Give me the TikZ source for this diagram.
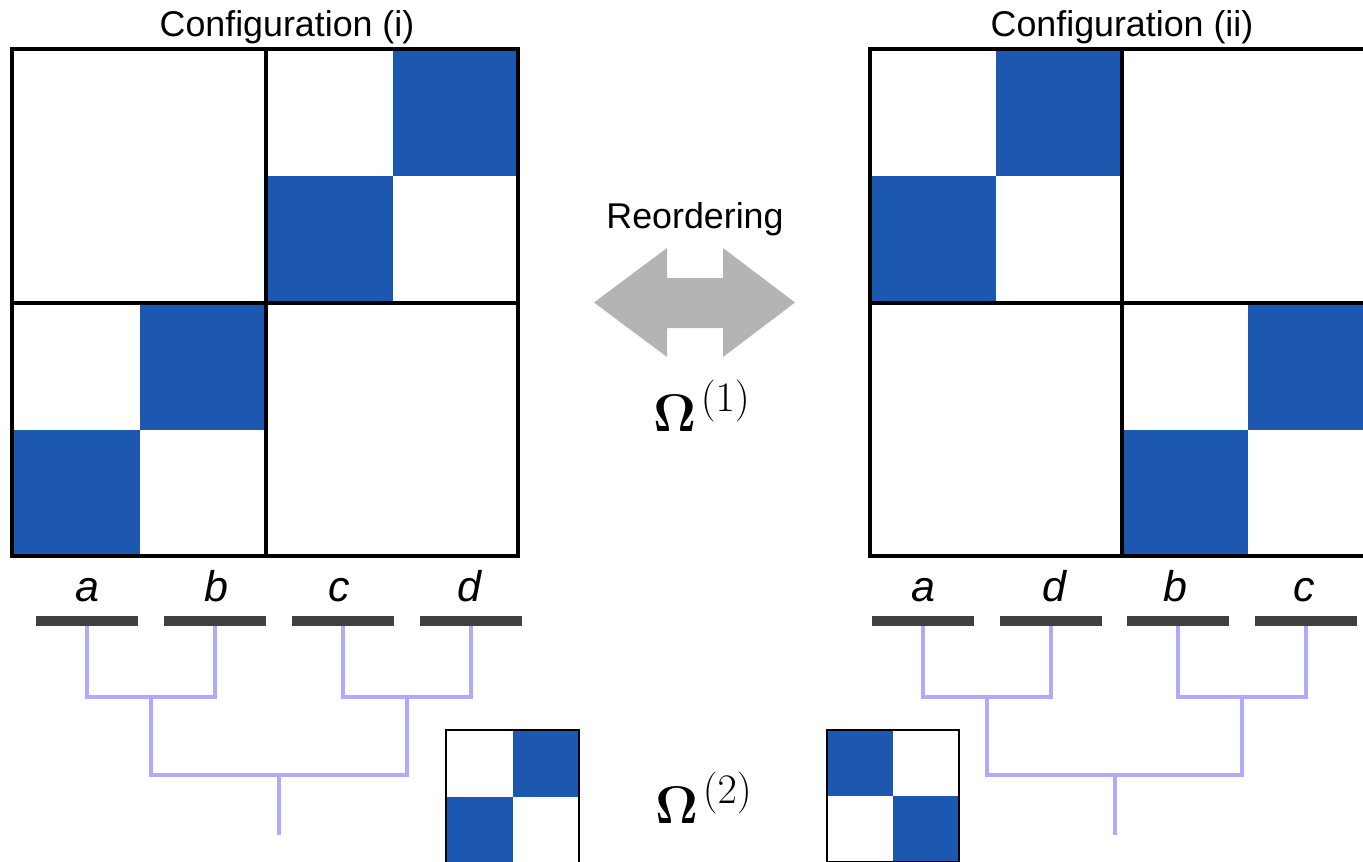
\RequirePackage{fix-cm}
\documentclass[tikz,border=0pt]{standalone}
\usepackage[no-math]{fontspec}
\newfontfamily\arialfont{Liberation Sans}
\DeclareMathSizes{26.5}{26.5}{21}{15}
\definecolor{cellblue}{RGB}{28,87,176}
\definecolor{dendro}{RGB}{176,170,255}
\definecolor{bardark}{RGB}{64,64,64}
\definecolor{arrowgray}{RGB}{180,180,180}
\tikzset{
  frame/.style={draw=black, line width=2pt},
  smallframe/.style={draw=black, line width=1pt},
  cell/.style={fill=cellblue},
  barnode/.style={fill=bardark, minimum width=51pt, minimum height=5pt, inner sep=0pt, outer sep=0pt},
  dend/.style={draw=dendro, line width=2pt},
  titletext/.style={anchor=base, inner sep=0pt, font=\arialfont\fontsize{17.9}{20}\selectfont},
  leaftext/.style={anchor=base, inner sep=0pt, font=\arialfont\itshape\fontsize{21.5}{24}\selectfont},
  omegatext/.style={anchor=base, inner sep=0pt, font=\fontsize{26.5}{30}\selectfont},
}
\begin{document}
\begin{tikzpicture}[x=0.5pt, y=-0.5pt]
\useasboundingbox (0,0) rectangle (1363,861);
\clip (0,0) rectangle (1363,861);

% ---------- Configuration (i) ----------
\node[titletext] (title1) at (287,37) {Configuration (i)};
\fill[cell] (392.5,49) rectangle (518,176);
\fill[cell] (266,176) rectangle (392.5,303);
\fill[cell] (139.5,303) rectangle (266,429.5);
\fill[cell] (12,429.5) rectangle (139.5,556);
\draw[frame] (12,49) rectangle (518,556);
\draw[frame] (266,49) -- (266,556);
\draw[frame] (12,303) -- (518,303);

% ---------- Configuration (ii) ----------
\node[titletext] (title2) at (1122,37) {Configuration (ii)};
\fill[cell] (995.5,49) rectangle (1121.5,176);
\fill[cell] (869.5,176) rectangle (995.5,302.5);
\fill[cell] (1247.5,302.5) rectangle (1373.5,429.5);
\fill[cell] (1121.5,429.5) rectangle (1247.5,556);
\draw[frame] (869.5,49) rectangle (1373.5,556);
\draw[frame] (1121.5,49) -- (1121.5,556);
\draw[frame] (869.5,302.5) -- (1373.5,302.5);

% ---------- Reordering arrow ----------
\node[titletext] (reord) at (695,228) {Reordering};
\fill[arrowgray] (594,302.5) -- (667,248) -- (667,278) -- (723,278) -- (723,248)
  -- (795,302.5) -- (723,357) -- (723,328) -- (667,328) -- (667,357) -- cycle;
\node[omegatext] (om1) at (702,431) {$\mathbf{\Omega}^{\mkern2mu(1)}$};

% ---------- leaves, left ----------
\node[barnode] (La) at (87,621) {};
\node[barnode] (Lb) at (215,621) {};
\node[barnode] (Lc) at (343,621) {};
\node[barnode] (Ld) at (471,621) {};
\node[leaftext] (tLa) at (87,601) {a};
\node[leaftext] (tLb) at (216,601) {b};
\node[leaftext] (tLc) at (339,601) {c};
\node[leaftext] (tLd) at (469,601) {d};

\coordinate (Lab) at (151,697);
\coordinate (Lcd) at (407,697);
\coordinate (Lroot) at (279,775);
\coordinate (Lstem) at (279,835);
\draw[dend] (La.south) |- (Lab) -| (Lb.south);
\draw[dend] (Lc.south) |- (Lcd) -| (Ld.south);
\draw[dend] (Lab) |- (Lroot) -| (Lcd);
\draw[dend] (Lroot) -- (Lstem);

% ---------- leaves, right ----------
\node[barnode] (Ra) at (923,621) {};
\node[barnode] (Rd) at (1051,621) {};
\node[barnode] (Rb) at (1178,621) {};
\node[barnode] (Rc) at (1306,621) {};
\node[leaftext] (tRa) at (923,601) {a};
\node[leaftext] (tRd) at (1054,601) {d};
\node[leaftext] (tRb) at (1175,601) {b};
\node[leaftext] (tRc) at (1304,601) {c};

\coordinate (Rad) at (987,697);
\coordinate (Rbc) at (1242,697);
\coordinate (Rroot) at (1114.5,775);
\coordinate (Rstem) at (1114.5,835);
\draw[dend] (Ra.south) |- (Rad) -| (Rd.south);
\draw[dend] (Rb.south) |- (Rbc) -| (Rc.south);
\draw[dend] (Rad) |- (Rroot) -| (Rbc);
\draw[dend] (Rroot) -- (Rstem);

% ---------- small 2x2 matrices ----------
\fill[cell] (512.5,730) rectangle (579,796.5);
\fill[cell] (446,796.5) rectangle (512.5,863);
\draw[smallframe] (446,730) rectangle (579,863);

\fill[cell] (827,730) rectangle (893,796);
\fill[cell] (893,796) rectangle (959,862);
\draw[smallframe] (827,730) rectangle (959,862);

\node[omegatext] (om2) at (704,823) {$\mathbf{\Omega}^{\mkern2mu(2)}$};
\end{tikzpicture}
\end{document}
